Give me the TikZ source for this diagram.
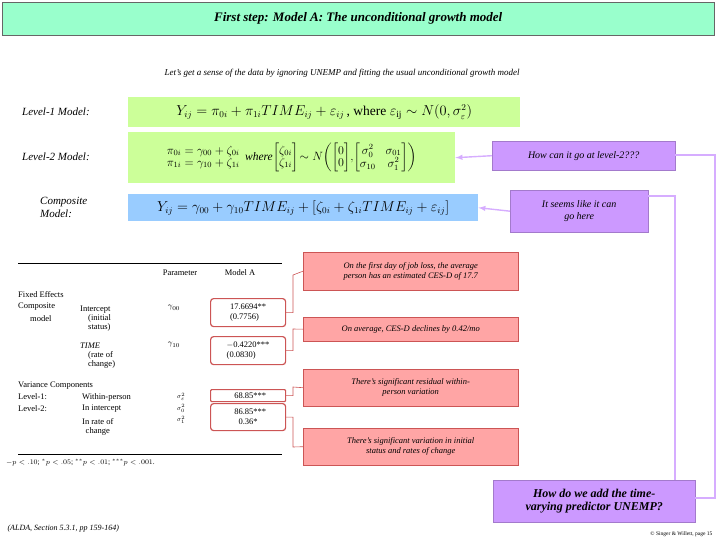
\documentclass[tikz,border=0pt]{standalone}
\usepackage{amsmath}
\usepackage{fontspec}
\setmainfont{Liberation Serif}
\definecolor{titleg}{HTML}{99FFCC}
\definecolor{eqg}{HTML}{CCFF99}
\definecolor{eqb}{HTML}{99CCFF}
\definecolor{purp}{HTML}{CC99FF}
\definecolor{pinkf}{HTML}{FFA5A5}
\definecolor{pinkd}{HTML}{CC5555}
\begin{document}
\begin{tikzpicture}[x=1pt,y=-1pt,
  pinkbox/.style={draw=pinkd,fill=pinkf,align=center,font=\itshape\fontsize{8.5}{10}\selectfont,inner sep=2pt},
  purpbox/.style={fill=purp,draw=purp!80!black,align=center,font=\itshape\fontsize{10}{12}\selectfont},
  valbox/.style={draw=pinkd,rounded corners=3pt,line width=1.2pt,align=left,font=\fontsize{8.5}{10}\selectfont,inner sep=2pt},
  tab/.style={font=\fontsize{8.5}{10}\selectfont,inner sep=0pt},
  conn/.style={draw=pinkd,line width=0.6pt},
  pconn/.style={draw=purp!80,line width=1.4pt},
  lab/.style={font=\itshape\fontsize{11}{13}\selectfont,inner sep=0pt}]
\useasboundingbox (0,0) rectangle (720,540);
\node[fill=titleg,draw=black!60,minimum width=712,minimum height=33,anchor=north west,font=\itshape\bfseries\fontsize{13}{15}\selectfont] (title) at (2,2) {First step: Model A: The unconditional growth model};
\node[font=\itshape\fontsize{9}{11}\selectfont] (intro) at (342,73) {Let's get a sense of the data by ignoring UNEMP and fitting the usual unconditional growth model};
\node[lab,anchor=west] (l1) at (22,112) {Level-1 Model:};
\node[lab,anchor=west] (l2) at (22,157) {Level-2 Model:};
\node[lab,anchor=west,align=left] (l3) at (40,207) {Composite\\Model:};
\node[fill=eqg,minimum width=392,minimum height=30,anchor=north west,inner sep=0pt,font=\fontsize{13.5}{15}\selectfont] (e1) at (128,97) {$Y_{ij}=\pi_{0i}+\pi_{1i}TIME_{ij}+\varepsilon_{ij}$\,, where $\varepsilon_{\mathrm{ij}}\sim N(0,\sigma_\varepsilon^2)$};
\node[fill=eqg,minimum width=327,minimum height=51,anchor=north west,inner sep=0pt,font=\fontsize{11.5}{12}\selectfont] (e2) at (128,132) {$\begin{array}{@{}l@{}}\pi_{0i}=\gamma_{00}+\zeta_{0i}\\ \pi_{1i}=\gamma_{10}+\zeta_{1i}\end{array}\ \ \textit{where}\!\begin{bmatrix}\zeta_{0i}\\ \zeta_{1i}\end{bmatrix}\!\sim N\!\left(\begin{bmatrix}0\\0\end{bmatrix}\!,\!\begin{bmatrix}\sigma_0^2 & \sigma_{01}\\ \sigma_{10} & \sigma_1^2\end{bmatrix}\right)$};
\node[fill=eqb,minimum width=350,minimum height=27,anchor=north west,inner sep=0pt,font=\fontsize{13.5}{15}\selectfont] (e3) at (128,194) {$Y_{ij}=\gamma_{00}+\gamma_{10}TIME_{ij}+[\zeta_{0i}+\zeta_{1i}TIME_{ij}+\varepsilon_{ij}]$};
\node[purpbox,minimum width=183,minimum height=29,anchor=north west] (q1) at (492,141) {How can it go at level-2???};
\node[purpbox,minimum width=138,minimum height=42,anchor=north west] (q2) at (510,190) {It seems like it can\\go here};
\node[purpbox,minimum width=202,minimum height=42,anchor=north west,font=\itshape\bfseries\fontsize{12}{13}\selectfont] (q3) at (493,480) {How do we add the time-\\varying predictor UNEMP?};
% table
\draw[line width=1pt] (18,263) -- (282,263);
\draw[line width=0.8pt] (18,454) -- (282,454);
\node[tab] (h1) at (180,273) {Parameter};
\node[tab] (h2) at (240,273) {Model A};
\node[tab,anchor=west] (fe) at (18,295) {Fixed Effects};
\node[tab,anchor=west] (c1) at (18,307) {Composite};
\node[tab,anchor=west] (c2) at (30,319) {model};
\node[tab,anchor=west,align=left] (ic) at (80,319) {Intercept\\[-1pt]\hspace*{8pt}(initial\\[-1pt]\hspace*{8pt}status)};
\node[tab,anchor=west,align=left] (tm) at (80,356) {\textit{TIME}\\[-1pt]\hspace*{8pt}(rate of\\[-1pt]\hspace*{8pt}change)};
\node[tab] (g0) at (174,308) {$\gamma_{00}$};
\node[tab] (g1) at (174,345) {$\gamma_{10}$};
\node[tab,anchor=west] (vc) at (18,386) {Variance Components};
\node[tab,anchor=west] (lv1) at (18,397) {Level-1:};
\node[tab,anchor=west] (lv2) at (18,409) {Level-2:};
\node[tab,anchor=west] (wp) at (82,397) {Within-person};
\node[tab,anchor=west] (ii) at (82,409) {In intercept};
\node[tab,anchor=west,align=center] (ir) at (82,427) {In rate of\\[-1pt]change};
\node[tab,font=\fontsize{6.5}{7}\selectfont] (s1) at (181,397) {$\sigma_\varepsilon^2$};
\node[tab,font=\fontsize{6.5}{7}\selectfont] (s2) at (181,408.5) {$\sigma_0^2$};
\node[tab,font=\fontsize{6.5}{7}\selectfont] (s3) at (181,420) {$\sigma_1^2$};
\node[tab,anchor=west,font=\fontsize{7.5}{9}\selectfont] (fn) at (6,463) {$-p<.10$; $^*p<.05$; $^{**}p<.01$; $^{***}p<.001$.};
\node[valbox,minimum width=75,minimum height=28,anchor=north west] (v1) at (210,298) {17.6694**\\(0.7756)};
\node[valbox,minimum width=75,minimum height=28,anchor=north west] (v2) at (210,336) {$-$0.4220***\\(0.0830)};
\node[valbox,minimum width=75,minimum height=12,anchor=north west,rounded corners=1pt] (v3) at (210,389) {\ \ 68.85***};
\node[valbox,minimum width=75,minimum height=27,anchor=north west] (v4) at (210,403) {\ \ 86.85***\\\ \ \ \ 0.36*};
\node[pinkbox,minimum width=215,minimum height=38,anchor=north west] (p1) at (303,252) {On the first day of job loss, the average\\person has an estimated CES-D of 17.7};
\node[pinkbox,minimum width=215,minimum height=24,anchor=north west] (p2) at (303,317) {On average, CES-D declines by 0.42/mo};
\node[pinkbox,minimum width=215,minimum height=37,anchor=north west] (p3) at (303,369) {There's significant residual within-\\person variation};
\node[pinkbox,minimum width=215,minimum height=37,anchor=north west] (p4) at (303,428) {There's significant variation in initial\\status and rates of change};
\draw[conn] (v1.east) -| (293,275) -- (p1.west);
\draw[conn] (v2.east) -| (293,329) -- (p2.west);
\draw[conn] (v3.east) -| (293,387) -- (p3.west);
\draw[conn] (v4.east) -| (293,447) -- (p4.west);
% purple connectors
\draw[pconn,-latex] (q1.west) -- (e2.east);
\draw[pconn,-latex] (q2.west) -- (e3.east);
\draw[pconn] (q3.north -| 675,0) -- (675,196) -- (q2.east |- 0,196);
\draw[pconn] (q3.east |- 0,498) -- (715,498) -- (715,155) -- (q1.east |- 0,155);
\node[font=\itshape\fontsize{8}{10}\selectfont,anchor=west] (src) at (4,529) {(ALDA, Section 5.3.1, pp 159-164)};
\node[font=\fontsize{5.5}{7}\selectfont,anchor=east] (cp) at (716,534) {\textcopyright\ Singer \& Willett, page 15};
\end{tikzpicture}
\end{document}
